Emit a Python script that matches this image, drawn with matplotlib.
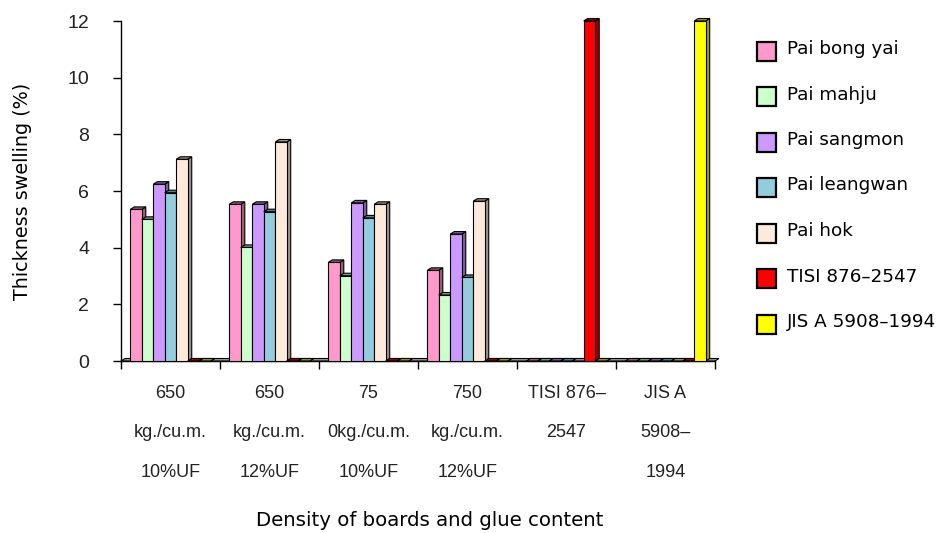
import matplotlib
matplotlib.use("Agg")
import matplotlib.pyplot as plt
from matplotlib.patches import Polygon, Rectangle
import matplotlib.colors as mcolors
import numpy as np

categories = [
    "650\nkg./cu.m.\n10%UF",
    "650\nkg./cu.m.\n12%UF",
    "75\n0kg./cu.m.\n10%UF",
    "750\nkg./cu.m.\n12%UF",
    "TISI 876–\n2547",
    "JIS A\n5908–\n1994",
]
series_names = ["Pai bong yai", "Pai mahju", "Pai sangmon", "Pai leangwan",
                "Pai hok", "TISI 876–2547", "JIS A 5908–1994"]
pai_bong_yai = [5.35, 5.53, 3.48, 3.20, 0, 0]
pai_mahju    = [5.00, 4.01, 3.01, 2.33, 0, 0]
pai_sangmon  = [6.24, 5.53, 5.58, 4.48, 0, 0]
pai_leangwan = [5.94, 5.27, 5.05, 2.95, 0, 0]
pai_hok      = [7.12, 7.73, 5.53, 5.64, 0, 0]
tisi         = [0, 0, 0, 0, 12, 0]
jis          = [0, 0, 0, 0, 0, 12]
series_values = [pai_bong_yai, pai_mahju, pai_sangmon, pai_leangwan,
                 pai_hok, tisi, jis]
colors = ["#FF99CC", "#CCFFCC", "#CC99FF", "#93CDDD", "#FDEADA",
          "#FF0000", "#FFFF00"]

W, H, DPI = 943, 533, 100
fig = plt.figure(figsize=(W / DPI, H / DPI), dpi=DPI)
ax_l, ax_r, ax_t, ax_b = 121, 715, 21, 361
ax = fig.add_axes([ax_l / W, 1 - ax_b / H, (ax_r - ax_l) / W, (ax_b - ax_t) / H])

n_cat = len(categories)
n_ser = len(series_names)
ax.set_xlim(0, n_cat)
ax.set_ylim(0, 12)

# depth of the pseudo-3D faces, in data units (about 4 px right, 2.5 px up)
dx = 4.0 / (ax_r - ax_l) * n_cat
dy = 2.5 / (ax_b - ax_t) * 12

bar_w = 0.116
gap = (1 - n_ser * bar_w) / 2


def darker(c, f=0.62):
    r, g, b = mcolors.to_rgb(c)
    return (r * f, g * f, b * f)


# floor plate
floor = Polygon([(0, 0), (n_cat, 0), (n_cat + dx, dy), (dx, dy)], closed=True,
                facecolor="#9a9a9a", edgecolor="black", lw=0.8, clip_on=False, zorder=1)
ax.add_patch(floor)

z = 2
for ci in range(n_cat):
    for si in range(n_ser):
        v = series_values[si][ci]
        c = colors[si]
        x0 = ci + gap + si * bar_w
        x1 = x0 + bar_w
        dark = darker(c)
        side = Polygon([(x1, 0), (x1 + dx, dy), (x1 + dx, v + dy), (x1, v)], closed=True,
                       facecolor=dark, edgecolor="black", lw=0.8, clip_on=False, zorder=z)
        top = Polygon([(x0, v), (x0 + dx, v + dy), (x1 + dx, v + dy), (x1, v)], closed=True,
                      facecolor=dark, edgecolor="black", lw=0.8, clip_on=False, zorder=z)
        front = Rectangle((x0, 0), bar_w, v, facecolor=c, edgecolor="black", lw=0.8,
                          clip_on=False, zorder=z)
        ax.add_patch(side)
        ax.add_patch(top)
        ax.add_patch(front)
        z += 1

# axes styling
for s in ["top", "right"]:
    ax.spines[s].set_visible(False)
ax.spines["left"].set_linewidth(1.0)
ax.spines["bottom"].set_linewidth(1.0)
ax.spines["left"].set_zorder(0.5)
ax.spines["bottom"].set_zorder(0.5)

tick_font = "Liberation Sans"
ax.set_yticks(np.arange(0, 13, 2))
ax.set_yticklabels([str(v) for v in range(0, 13, 2)], fontsize=14,
                   family=tick_font, color="#222222")
ax.tick_params(axis="y", length=6, width=1.0, pad=17)

ax.set_xticks(np.arange(n_cat) + 0.5)
ax.set_xticklabels(categories, fontsize=13, family=tick_font, color="#222222",
                   linespacing=2.75, va="top")
ax.tick_params(axis="x", which="major", length=0, pad=17)
ax.set_xticks(np.arange(n_cat + 1), minor=True)
ax.tick_params(axis="x", which="minor", length=6, width=1.0)

ax.set_ylabel("Thickness swelling (%)", fontsize=13.8, family="DejaVu Sans")
ax.yaxis.set_label_coords(-89 / (ax_r - ax_l), 0.5)
fig.text(430 / W, 1 - 520 / H, "Density of boards and glue content", fontsize=14.2,
         family="DejaVu Sans", ha="center", va="center")

# legend
leg_x = 757
leg_step = 45.5
sq = 19
for i, (name, c) in enumerate(zip(series_names, colors)):
    ys = 51 + i * leg_step
    yt = 49 + i * leg_step
    fig.patches.append(Rectangle((leg_x / W, 1 - (ys + sq / 2) / H), sq / W, sq / H,
                                 transform=fig.transFigure, facecolor=c,
                                 edgecolor="black", lw=1.6))
    fig.text(787 / W, 1 - yt / H, name, fontsize=13.2,
             family="DejaVu Sans", ha="left", va="center")

fig.savefig("out.png", dpi=DPI)
